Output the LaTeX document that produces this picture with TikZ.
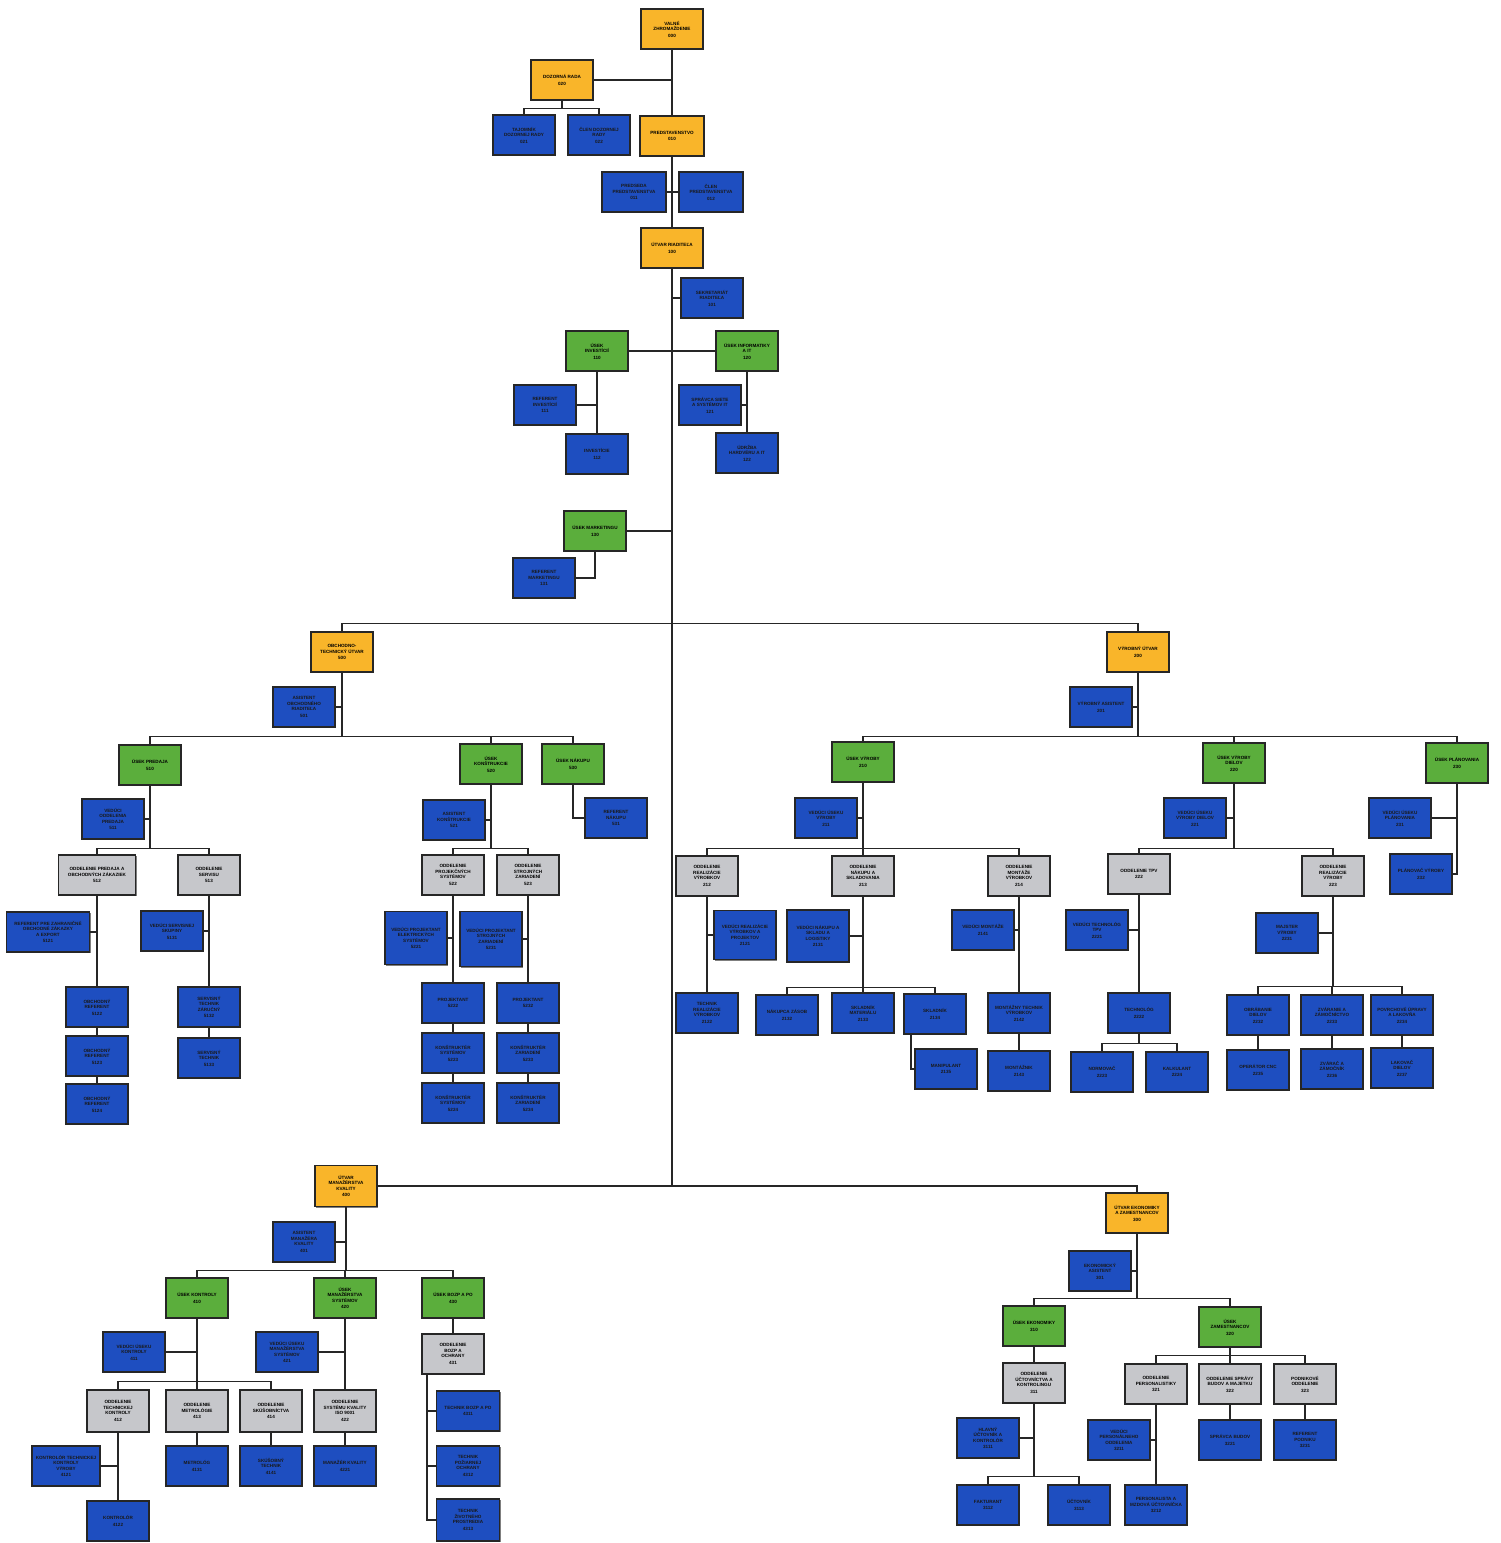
\documentclass[tikz,border=0pt]{standalone}
\usepackage{fontspec}
\newfontfamily\boxfont{Liberation Sans}
\usetikzlibrary{shadows}
\newcommand{\bxfont}{\boxfont\fontsize{4.6}{5.5}\selectfont\bfseries}
\definecolor{orn}{HTML}{F9B52A}
\definecolor{grn}{HTML}{5BAE3C}
\definecolor{blu}{HTML}{1E4EC0}
\definecolor{gry}{HTML}{C6C7CB}
\tikzset{
  box/.style={draw=black!85, line width=1.2pt, minimum width=62pt, minimum height=40pt,
    inner sep=1pt, align=center, font=\bxfont, text=black,
    drop shadow={shadow xshift=1.1pt, shadow yshift=-1.1pt, fill=black, opacity=0.5}},
  orn/.style={box, fill=orn},
  grn/.style={box, fill=grn},
  blu/.style={box, fill=blu, text=black!90},
  gry/.style={box, fill=gry},
  conn/.style={draw=black!85, line width=1.1pt}
}
\begin{document}
\begin{tikzpicture}[x=1pt,y=-1pt]
\fill[white] (0,0) rectangle (1501,1543);
\useasboundingbox (0,0) rectangle (1501,1543);

% ---------------- top ----------------
\node[orn] (vz) at (672,29) {VALNÉ\\ZHROMAŽDENIE\\[1pt]000};
\node[orn] (dr) at (562,80) {DOZORNÁ RADA\\[1pt]020};
\node[blu] (d1) at (524,135) {TAJOMNÍK\\DOZORNEJ RADY\\[1pt]021};
\node[blu] (d2) at (599,135) {ČLEN DOZORNEJ\\RADY\\[1pt]022};
\node[orn, minimum width=64pt] (ps) at (672,136) {PREDSTAVENSTVO\\[1pt]010};
\node[blu, minimum width=64pt] (p1) at (634,192) {PREDSEDA\\PREDSTAVENSTVA\\[1pt]011};
\node[blu, minimum width=64pt] (p2) at (711,192) {ČLEN\\PREDSTAVENSTVA\\[1pt]012};
\node[orn] (ur) at (672,248) {ÚTVAR RIADITEĽA\\[1pt]100};
\node[blu] (u1) at (712,298) {SEKRETARIÁT\\RIADITEĽA\\[1pt]101};
\node[grn] (g110) at (597,351) {ÚSEK\\INVESTÍCIÍ\\[1pt]110};
\node[grn] (g120) at (747,351) {ÚSEK INFORMATIKY\\A IT\\[1pt]120};
\node[blu] (b111) at (545,405) {REFERENT\\INVESTÍCIÍ\\[1pt]111};
\node[blu] (b112) at (597,454) {INVESTÍCIE\\[1pt]112};
\node[blu] (b121) at (710,405) {SPRÁVCA SIETE\\A SYSTÉMOV IT\\[1pt]121};
\node[blu] (b122) at (747,453) {ÚDRŽBA\\HARDVÉRU A IT\\[1pt]122};
\node[grn] (g130) at (595,531) {ÚSEK MARKETINGU\\[1pt]130};
\node[blu] (b131) at (544,578) {REFERENT\\MARKETINGU\\[1pt]131};
\coordinate (tb) at (672,1186);

\draw[conn] (vz) -- (ps);
\draw[conn] (dr.east) -- (dr.east -| vz.south);
\draw[conn] (dr.south) -- ++(0,8) -| (d1.north);
\draw[conn] (dr.south) -- ++(0,8) -| (d2.north);
\draw[conn] (ps) -- (ur);
\draw[conn] (p1) -- (p2);
\draw[conn] (ur.south) -- (tb);
\draw[conn] (u1.west) -- (u1.west -| ur.south);
\draw[conn] (g110) -- (g120);
\draw[conn] (g110) -- (b112);
\draw[conn] (b111.east) -- (b111.east -| g110.south);
\draw[conn] (g120) -- (b122);
\draw[conn] (b121.east) -- (b121.east -| g120.south);
\draw[conn] (g130.east) -- (g130.east -| ur.south);
\draw[conn] (g130.south) |- (b131.east);

% ---------------- obchodno-technicky utvar ----------------
\node[orn] (o500) at (342,652) {OBCHODNO-\\TECHNICKÝ ÚTVAR\\[1pt]500};
\node[blu] (b501) at (304,707) {ASISTENT\\OBCHODNÉHO\\RIADITEĽA\\[1pt]501};
\node[grn] (g510) at (150,765) {ÚSEK PREDAJA\\[1pt]510};
\node[blu] (b511) at (113,819) {VEDÚCI\\ODDELENIA\\PREDAJA\\[1pt]511};
\node[gry, minimum width=77pt] (y512) at (97,875) {ODDELENIE PREDAJA A\\OBCHODNÝCH ZÁKAZIEK\\[1pt]512};
\node[gry] (y513) at (209,875) {ODDELENIE\\SERVISU\\[1pt]513};
\node[blu, minimum width=83pt] (b5121) at (48,932) {REFERENT PRE ZAHRANIČNÉ\\OBCHODNÉ ZÁKAZKY\\A EXPORT\\[1pt]5121};
\node[blu] (b5122) at (97,1007) {OBCHODNÝ\\REFERENT\\[1pt]5122};
\node[blu] (b5123) at (97,1056) {OBCHODNÝ\\REFERENT\\[1pt]5123};
\node[blu] (b5124) at (97,1104) {OBCHODNÝ\\REFERENT\\[1pt]5124};
\node[blu] (b5131) at (172,931) {VEDÚCI SERVISNEJ\\SKUPINY\\[1pt]5131};
\node[blu] (b5132) at (209,1007) {SERVISNÝ\\TECHNIK\\ZÁRUČNÝ\\[1pt]5132};
\node[blu] (b5133) at (209,1058) {SERVISNÝ\\TECHNIK\\[1pt]5133};
\node[grn] (g520) at (491,764) {ÚSEK\\KONŠTRUKCIE\\[1pt]520};
\node[grn] (g530) at (573,764) {ÚSEK NÁKUPU\\[1pt]530};
\node[blu] (b531) at (616,818) {REFERENT\\NÁKUPU\\[1pt]531};
\node[blu] (b521) at (454,820) {ASISTENT\\KONŠTRUKCIE\\[1pt]521};
\node[gry] (y522) at (453,875) {ODDELENIE\\PROJEKČNÝCH\\SYSTÉMOV\\[1pt]522};
\node[gry] (y523) at (528,875) {ODDELENIE\\STROJNÝCH\\ZARIADENÍ\\[1pt]523};
\node[blu, minimum height=53pt] (b5221) at (416,938) {VEDÚCI PROJEKTANT\\ELEKTRICKÝCH\\SYSTÉMOV\\[1pt]5221};
\node[blu, minimum height=55pt] (b5231) at (491,939) {VEDÚCI PROJEKTANT\\STROJNÝCH\\ZARIADENÍ\\[1pt]5231};
\node[blu] (b5222) at (453,1003) {PROJEKTANT\\[1pt]5222};
\node[blu] (b5223) at (453,1053) {KONŠTRUKTÉR\\SYSTÉMOV\\[1pt]5223};
\node[blu] (b5224) at (453,1103) {KONŠTRUKTÉR\\SYSTÉMOV\\[1pt]5224};
\node[blu] (b5232) at (528,1003) {PROJEKTANT\\[1pt]5232};
\node[blu] (b5233) at (528,1053) {KONŠTRUKTÉR\\ZARIADENÍ\\[1pt]5233};
\node[blu] (b5234) at (528,1103) {KONŠTRUKTÉR\\ZARIADENÍ\\[1pt]5234};

% ---------------- vyrobny utvar ----------------
\node[orn] (o200) at (1138,652) {VÝROBNÝ ÚTVAR\\[1pt]200};
\node[blu] (b201) at (1101,707) {VÝROBNÝ ASISTENT\\[1pt]201};
\node[grn] (g210) at (863,762) {ÚSEK VÝROBY\\[1pt]210};
\node[blu] (b211) at (826,818) {VEDÚCI ÚSEKU\\VÝROBY\\[1pt]211};
\node[gry] (y212) at (707,876) {ODDELENIE\\REALIZÁCIE\\VÝROBKOV\\[1pt]212};
\node[gry] (y213) at (863,876) {ODDELENIE\\NÁKUPU A\\SKLADOVANIA\\[1pt]213};
\node[gry] (y214) at (1019,876) {ODDELENIE\\MONTÁŽE\\VÝROBKOV\\[1pt]214};
\node[blu, minimum height=49pt] (b2121) at (745,935) {VEDÚCI REALIZÁCIE\\VÝROBKOV A\\PROJEKTOV\\[1pt]2121};
\node[blu] (b2122) at (707,1013) {TECHNIK\\REALIZÁCIE\\VÝROBKOV\\[1pt]2122};
\node[blu, minimum height=52pt] (b2131) at (818,936) {VEDÚCI NÁKUPU A\\SKLADU A\\LOGISTIKY\\[1pt]2131};
\node[blu] (b2132) at (787,1015) {NÁKUPCA ZÁSOB\\[1pt]2132};
\node[blu] (b2133) at (863,1013) {SKLADNÍK\\MATERIÁLU\\[1pt]2133};
\node[blu] (b2134) at (935,1014) {SKLADNÍK\\[1pt]2134};
\node[blu] (b2135) at (946,1069) {MANIPULANT\\[1pt]2135};
\node[blu] (b2141) at (983,930) {VEDÚCI MONTÁŽE\\[1pt]2141};
\node[blu] (b2142) at (1019,1013) {MONTÁŽNY TECHNIK\\VÝROBKOV\\[1pt]2142};
\node[blu] (b2143) at (1019,1071) {MONTÁŽNIK\\[1pt]2143};
\node[grn] (g220) at (1234,763) {ÚSEK VÝROBY\\DIELOV\\[1pt]220};
\node[blu] (b221) at (1195,818) {VEDÚCI ÚSEKU\\VÝROBY DIELOV\\[1pt]221};
\node[gry] (y222) at (1139,874) {ODDELENIE TPV\\[1pt]222};
\node[gry] (y223) at (1333,876) {ODDELENIE\\REALIZÁCIE\\VÝROBY\\[1pt]223};
\node[blu] (b2221) at (1097,930) {VEDÚCI TECHNOLÓG\\TPV\\[1pt]2221};
\node[blu] (b2222) at (1139,1013) {TECHNOLÓG\\[1pt]2222};
\node[blu] (b2223) at (1102,1072) {NORMOVAČ\\[1pt]2223};
\node[blu] (b2224) at (1177,1072) {KALKULANT\\[1pt]2224};
\node[blu] (b2231) at (1287,933) {MAJSTER\\VÝROBY\\[1pt]2231};
\node[blu] (b2232) at (1258,1015) {OBRÁBANIE\\DIELOV\\[1pt]2232};
\node[blu] (b2233) at (1332,1015) {ZVÁRANIE A\\ZÁMOČNÍCTVO\\[1pt]2233};
\node[blu] (b2234) at (1402,1015) {POVRCHOVÉ ÚPRAVY\\A LAKOVŇA\\[1pt]2234};
\node[blu] (b2235) at (1258,1070) {OPERÁTOR CNC\\[1pt]2235};
\node[blu] (b2236) at (1332,1069) {ZVÁRAČ A\\ZÁMOČNÍK\\[1pt]2236};
\node[blu] (b2237) at (1402,1068) {LAKOVAČ\\DIELOV\\[1pt]2237};
\node[grn] (g230) at (1457,763) {ÚSEK PLÁNOVANIA\\[1pt]230};
\node[blu] (b231) at (1400,818) {VEDÚCI ÚSEKU\\PLÁNOVANIA\\[1pt]231};
\node[blu] (b232) at (1421,874) {PLÁNOVAČ VÝROBY\\[1pt]232};

\draw[conn] (o500.north) -- ++(0,-8) -| (o200.north);
\draw[conn] (o500.south) |- (b501.east);
\draw[conn] (o500.south) -- ++(0,64) -| (g510.north);
\draw[conn] (o500.south) -- ++(0,64) -| (g520.north);
\draw[conn] (o500.south) -- ++(0,64) -| (g530.north);
\draw[conn] (g510.south) |- (b511.east);
\draw[conn] (g510.south) -- ++(0,63) -| (y512.north);
\draw[conn] (g510.south) -- ++(0,63) -| (y513.north);
\draw[conn] (y512) -- (b5122);
\draw[conn] (b5122) -- (b5123);
\draw[conn] (b5123) -- (b5124);
\draw[conn] (b5121.east) -- (b5121.east -| y512.south);
\draw[conn] (y513) -- (b5132);
\draw[conn] (b5132) -- (b5133);
\draw[conn] (b5131.east) -- (b5131.east -| y513.south);
\draw[conn] (g520.south) |- (b521.east);
\draw[conn] (g520.south) -- ++(0,64) -| (y522.north);
\draw[conn] (g520.south) -- ++(0,64) -| (y523.north);
\draw[conn] (y522) -- (b5222);
\draw[conn] (b5222) -- (b5223);
\draw[conn] (b5223) -- (b5224);
\draw[conn] (b5221.east) -- (b5221.east -| y522.south);
\draw[conn] (y523) -- (b5232);
\draw[conn] (b5232) -- (b5233);
\draw[conn] (b5233) -- (b5234);
\draw[conn] (b5231.east) -- (b5231.east -| y523.south);
\draw[conn] (g530.south) |- (b531.west);

\draw[conn] (o200.south) |- (b201.east);
\draw[conn] (o200.south) -- ++(0,64) -| (g210.north);
\draw[conn] (o200.south) -- ++(0,64) -| (g220.north);
\draw[conn] (o200.south) -- ++(0,64) -| (g230.north);
\draw[conn] (g210.south) |- (b211.east);
\draw[conn] (g210.south) -- ++(0,66) -| (y212.north);
\draw[conn] (g210.south) -- ++(0,66) -| (y213.north);
\draw[conn] (g210.south) -- ++(0,66) -| (y214.north);
\draw[conn] (y212) -- (b2122);
\draw[conn] (b2121.west) -- (b2121.west -| y212.south);
\draw[conn] (b2131.east) -- (b2131.east -| y213.south);
\draw[conn] (y213.south) -- ++(0,91) -| (b2132.north);
\draw[conn] (y213.south) -- ++(0,91) -| (b2133.north);
\draw[conn] (y213.south) -- ++(0,91) -| (b2134.north);
\draw[conn] ([xshift=-24pt]b2134.south) |- (b2135.west);
\draw[conn] (b2141.east) -- (b2141.east -| y214.south);
\draw[conn] (y214) -- (b2142);
\draw[conn] (b2142) -- (b2143);
\draw[conn] (g220.south) |- (b221.east);
\draw[conn] (g220.south) -- ++(0,65) -| (y222.north);
\draw[conn] (g220.south) -- ++(0,65) -| (y223.north);
\draw[conn] (b2221.east) -- (b2221.east -| y222.south);
\draw[conn] (y222) -- (b2222);
\draw[conn] (b2222.south) -- ++(0,10) -| (b2223.north);
\draw[conn] (b2222.south) -- ++(0,10) -| (b2224.north);
\draw[conn] (b2231.east) -- (b2231.east -| y223.south);
\draw[conn] (y223.south) -- ++(0,90) -| (b2232.north);
\draw[conn] (y223.south) -- ++(0,90) -| (b2233.north);
\draw[conn] (y223.south) -- ++(0,90) -| (b2234.north);
\draw[conn] (b2232) -- (b2235);
\draw[conn] (b2233) -- (b2236);
\draw[conn] (b2234) -- (b2237);
\draw[conn] (g230.south) |- (b232.east);
\draw[conn] (b231.east) -- (b231.east -| g230.south);

% ---------------- manazerstvo kvality ----------------
\node[orn, minimum height=41pt] (o400) at (346,1186) {ÚTVAR\\MANAŽÉRSTVA\\KVALITY\\[1pt]400};
\node[blu] (b401) at (304,1242) {ASISTENT\\MANAŽÉRA\\KVALITY\\[1pt]401};
\node[grn] (g410) at (197,1298) {ÚSEK KONTROLY\\[1pt]410};
\node[grn] (g420) at (345,1298) {ÚSEK\\MANAŽÉRSTVA\\SYSTÉMOV\\[1pt]420};
\node[grn] (g430) at (453,1298) {ÚSEK BOZP A PO\\[1pt]430};
\node[blu] (b411) at (134,1352) {VEDÚCI ÚSEKU\\KONTROLY\\[1pt]411};
\node[gry, minimum height=42pt] (y412) at (118,1411) {ODDELENIE\\TECHNICKEJ\\KONTROLY\\[1pt]412};
\node[gry, minimum height=42pt] (y413) at (197,1411) {ODDELENIE\\METROLÓGIE\\[1pt]413};
\node[gry, minimum height=42pt] (y414) at (271,1411) {ODDELENIE\\SKÚŠOBNÍCTVA\\[1pt]414};
\node[blu] (b421) at (287,1352) {VEDÚCI ÚSEKU\\MANAŽÉRSTVA\\SYSTÉMOV\\[1pt]421};
\node[gry, minimum height=42pt] (y422) at (345,1411) {ODDELENIE\\SYSTÉMU KVALITY\\ISO 9001\\[1pt]422};
\node[gry] (y431) at (453,1354) {ODDELENIE\\BOZP A\\OCHRANY\\[1pt]431};
\node[blu, minimum width=63pt] (b4311) at (468,1411) {TECHNIK BOZP A PO\\[1pt]4311};
\node[blu, minimum width=63pt] (b4312) at (468,1466) {TECHNIK\\POŽIARNEJ\\OCHRANY\\[1pt]4312};
\node[blu, minimum width=63pt, minimum height=42pt] (b4313) at (468,1520) {TECHNIK\\ŽIVOTNÉHO\\PROSTREDIA\\[1pt]4313};
\node[blu, minimum width=68pt] (b4121) at (66,1466) {KONTROLÓR TECHNICKEJ\\KONTROLY\\VÝROBY\\[1pt]4121};
\node[blu] (b4122) at (118,1521) {KONTROLÓR\\[1pt]4122};
\node[blu] (b4131) at (197,1466) {METROLÓG\\[1pt]4131};
\node[blu] (b4141) at (271,1466) {SKÚŠOBNÝ\\TECHNIK\\[1pt]4141};
\node[blu] (b4221) at (345,1466) {MANAŽÉR KVALITY\\[1pt]4221};

% ---------------- ekonomika ----------------
\node[orn] (o300) at (1137,1213) {ÚTVAR EKONOMIKY\\A ZAMESTNANCOV\\[1pt]300};
\node[blu] (b301) at (1100,1271) {EKONOMICKÝ\\ASISTENT\\[1pt]301};
\node[grn] (g310) at (1034,1326) {ÚSEK EKONOMIKY\\[1pt]310};
\node[grn] (g320) at (1230,1327) {ÚSEK\\ZAMESTNANCOV\\[1pt]320};
\node[gry] (y311) at (1034,1383) {ODDELENIE\\ÚČTOVNÍCTVA A\\KONTROLINGU\\[1pt]311};
\node[blu] (b3111) at (988,1438) {HLAVNÝ\\ÚČTOVNÍK A\\KONTROLÓR\\[1pt]3111};
\node[blu] (b3112) at (988,1505) {FAKTURANT\\[1pt]3112};
\node[blu] (b3113) at (1079,1505) {ÚČTOVNÍK\\[1pt]3113};
\node[gry] (y321) at (1156,1384) {ODDELENIE\\PERSONALISTIKY\\[1pt]321};
\node[gry] (y322) at (1230,1384) {ODDELENIE SPRÁVY\\BUDOV A MAJETKU\\[1pt]322};
\node[gry] (y323) at (1305,1384) {PODNIKOVÉ\\ODDELENIE\\[1pt]323};
\node[blu] (b3211) at (1119,1440) {VEDÚCI\\PERSONÁLNEHO\\ODDELENIA\\[1pt]3211};
\node[blu] (b3212) at (1156,1505) {PERSONALISTA A\\MZDOVÁ ÚČTOVNÍČKA\\[1pt]3212};
\node[blu] (b3221) at (1230,1440) {SPRÁVCA BUDOV\\[1pt]3221};
\node[blu] (b3231) at (1305,1440) {REFERENT\\PODNIKU\\[1pt]3231};

\draw[conn] (o400.east) -| (o300.north);
\draw[conn] (o400.south) |- (b401.east);
\draw[conn] (o400.south) -- ++(0,63.5) -| (g410.north);
\draw[conn] (o400.south) -- ++(0,63.5) -| (g420.north);
\draw[conn] (o400.south) -- ++(0,63.5) -| (g430.north);
\draw[conn] (g410.south) |- (b411.east);
\draw[conn] (g410.south) -- ++(0,63) -| (y412.north);
\draw[conn] (g410.south) -- ++(0,63) -| (y413.north);
\draw[conn] (g410.south) -- ++(0,63) -| (y414.north);
\draw[conn] (y412) -- (b4122);
\draw[conn] (b4121.east) -- (b4121.east -| y412.south);
\draw[conn] (y413) -- (b4131);
\draw[conn] (y414) -- (b4141);
\draw[conn] (g420.south) |- (b421.east);
\draw[conn] (g420) -- (y422);
\draw[conn] (y422) -- (b4221);
\draw[conn] (g430) -- (y431);
\draw[conn] ([xshift=-26pt]y431.south) |- (b4311.west);
\draw[conn] ([xshift=-26pt]y431.south) |- (b4312.west);
\draw[conn] ([xshift=-26pt]y431.south) |- (b4313.west);

\draw[conn] (o300.south) |- (b301.east);
\draw[conn] (o300.south) -- ++(0,65) -| (g310.north);
\draw[conn] (o300.south) -- ++(0,65) -| (g320.north);
\draw[conn] (g310) -- (y311);
\draw[conn] (b3111.east) -- (b3111.east -| y311.south);
\draw[conn] (y311.south) -- ++(0,73) -| (b3112.north);
\draw[conn] (y311.south) -- ++(0,73) -| (b3113.north);
\draw[conn] (g320.south) -- ++(0,8) -| (y321.north);
\draw[conn] (g320.south) -- ++(0,8) -| (y322.north);
\draw[conn] (g320.south) -- ++(0,8) -| (y323.north);
\draw[conn] (b3211.east) -- (b3211.east -| y321.south);
\draw[conn] (y321) -- (b3212);
\draw[conn] (y322) -- (b3221);
\draw[conn] (y323) -- (b3231);
\end{tikzpicture}
\end{document}
